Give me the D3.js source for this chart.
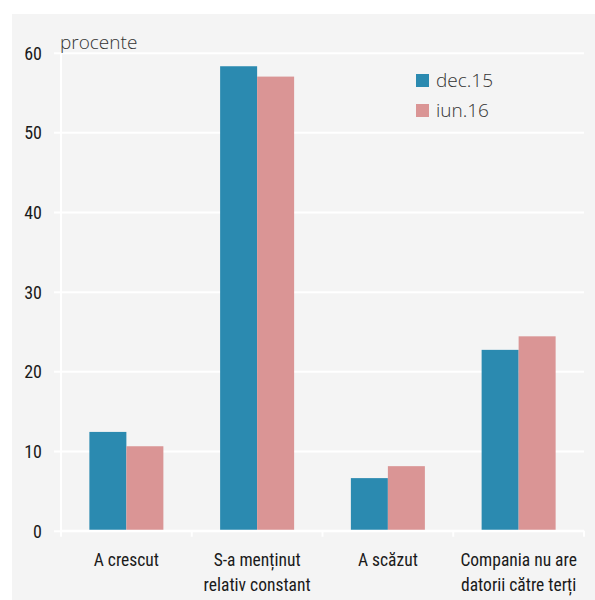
<!DOCTYPE html>
<html>
<head>
<meta charset="utf-8">
<script src="https://cdn.jsdelivr.net/npm/d3@7"></script>
<style>
  html, body { margin: 0; padding: 0; background: #ffffff; }
  svg { display: block; }
</style>
</head>
<body>
<svg id="chart" width="595" height="600"></svg>
<script>
// Categories (two-line labels) and series
const categories = ["A crescut", "S-a menținut relativ constant", "A scăzut", "Compania nu are datorii către terți"];
const categoryLines = [["A crescut"], ["S-a menținut", "relativ constant"], ["A scăzut"], ["Compania nu are", "datorii către terți"]];
const seriesNames = ["dec.15", "iun.16"];
const dec15 = [12.4, 58.3, 6.6, 22.7];
const iun16 = [10.6, 57.0, 8.1, 24.4];
const yTicks = [0, 10, 20, 30, 40, 50, 60];
const colors = ["#2b8ab0", "#da9595"];

const svg = d3.select("#chart");
const W = 595, H = 600;
const margin = { left: 61, right: 11, top: 52.7, bottom: 69.3 };

// panel background
svg.append("rect").attr("x", 12).attr("y", 14).attr("width", W - 12).attr("height", H - 14).attr("fill", "#f4f4f4");

const x = d3.scaleBand().domain(categories).range([margin.left, W - margin.right]).paddingInner(0).paddingOuter(0);
const y = d3.scaleLinear().domain([0, 60]).range([H - margin.bottom, margin.top]);

const tickFont = "'Liberation Sans Narrow', 'Roboto Condensed', 'DejaVu Sans Condensed', sans-serif";

// horizontal gridlines + y axis
const yAxis = d3.axisLeft(y).tickValues(yTicks).tickSize(0).tickPadding(0).tickFormat(d3.format("d"));
const gy = svg.append("g").attr("transform", `translate(${margin.left},0)`).call(yAxis);
gy.select(".domain").remove();
gy.selectAll(".tick line")
  .attr("x1", -7).attr("x2", (W - margin.right) - margin.left)
  .attr("stroke", "#ffffff").attr("stroke-width", 2);
gy.selectAll(".tick text")
  .attr("x", -19).attr("dy", "0.35em")
  .attr("fill", "#1a1a1a").style("font-family", tickFont).style("font-size", "18px").attr("text-anchor", "end");

// vertical axis line
svg.append("line").attr("x1", margin.left).attr("x2", margin.left)
  .attr("y1", y(60)).attr("y2", y(0) + 5).attr("stroke", "#ffffff").attr("stroke-width", 2);

// bars
const groupWidth = 74;
const xs = d3.scaleBand().domain(seriesNames).range([0, groupWidth]).padding(0);
const series = [dec15, iun16];
const gBars = svg.append("g");
series.forEach((vals, si) => {
  gBars.selectAll(null).data(categories).enter().append("rect")
    .attr("x", (c) => x(c) + (x.bandwidth() - groupWidth) / 2 + xs(seriesNames[si]))
    .attr("y", (c, i) => y(vals[i]))
    .attr("width", xs.bandwidth())
    .attr("height", (c, i) => y(0) - y(vals[i]))
    .attr("fill", colors[si]);
});

// x axis with ticks at band edges
const gx = svg.append("g").attr("transform", `translate(0,${y(0)})`);
gx.append("line").attr("x1", margin.left).attr("x2", W - margin.right)
  .attr("stroke", "#ffffff").attr("stroke-width", 2);
const edges = categories.map(c => x(c)).concat([x(categories[categories.length - 1]) + x.bandwidth()]);
gx.selectAll(".edge").data(edges).enter().append("line")
  .attr("x1", d => d).attr("x2", d => d).attr("y1", 0).attr("y2", 6)
  .attr("stroke", "#ffffff").attr("stroke-width", 2);

// category labels
categories.forEach((c, i) => {
  const t = svg.append("text")
    .attr("x", x(c) + x.bandwidth() / 2)
    .attr("y", y(0) + 35)
    .attr("text-anchor", "middle")
    .attr("fill", "#1a1a1a")
    .style("font-family", tickFont).style("font-size", "17.5px");
  categoryLines[i].forEach((line, li) => {
    t.append("tspan").attr("x", x(c) + x.bandwidth() / 2).attr("dy", li === 0 ? 0 : 25).text(line);
  });
});

// unit label
svg.append("text").attr("x", 60).attr("y", 49).text("procente")
  .attr("fill", "#333").style("font-family", "'Open Sans', 'Noto Sans', sans-serif").style("font-size", "19px").style("font-weight", 300);

// legend
const leg = svg.append("g").attr("transform", "translate(416,74)");
seriesNames.forEach((n, i) => {
  leg.append("rect").attr("x", 0).attr("y", i * 30).attr("width", 13).attr("height", 13).attr("fill", colors[i]);
  leg.append("text").attr("x", 20).attr("y", i * 30 + 13).text(n)
    .attr("fill", "#333").style("font-family", "'Open Sans', 'Noto Sans', sans-serif").style("font-size", "19px").style("font-weight", 300);
});
</script>
</body>
</html>
